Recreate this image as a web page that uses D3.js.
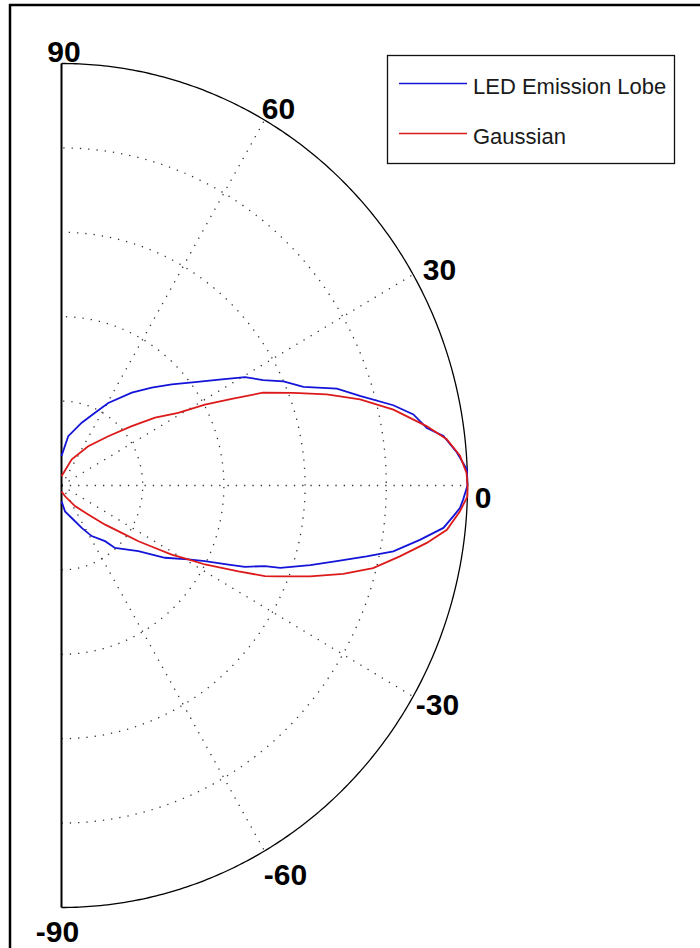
<!DOCTYPE html>
<html>
<head>
<meta charset="utf-8">
<script src="https://cdn.jsdelivr.net/npm/d3@7"></script>
<style>
  html, body { margin: 0; padding: 0; background: #fff; }
  svg { display: block; }
</style>
</head>
<body>
<svg id="chart" width="700" height="948"></svg>
<script>
// ---------------- DATA ----------------
const seriesNames = ["LED Emission Lobe", "Gaussian"];

// LED emission lobe (angle in degrees, normalized radius)
const ledAngles = [-90, -82, -71.9, -63.6, -58.2, -50.9, -48.3, -39.4, -33.9, -29.3, -26.9, -24.5, -23.1, -20.9,
  -19.9, -17.1, -14.8, -12.6, -10.8, -8.3, -6.1, -4.3, -3.1, -1.9, 0,
  2.2, 4.6, 7.1, 8.6, 11.0, 13.1, 16.1, 18.7, 21.4, 24.3, 26.7, 29.6, 32.5, 36.7, 41.4, 46.2, 51.8, 59.5, 64.4, 71.5, 81.9, 90];
const ledR = [0.037, 0.062, 0.081, 0.112, 0.141, 0.170, 0.198, 0.245, 0.307, 0.358, 0.396, 0.452, 0.491, 0.536,
  0.573, 0.641, 0.701, 0.770, 0.832, 0.892, 0.946, 0.968, 0.983, 0.990, 1.0,
  0.999, 0.977, 0.948, 0.910, 0.883, 0.839, 0.765, 0.716, 0.640, 0.600, 0.556, 0.520, 0.468, 0.410, 0.362, 0.321, 0.280, 0.227, 0.191, 0.157, 0.118, 0.070];

// Gaussian fit
const gaussAngles = [-90, -71, -55.8, -46.2, -40.8, -37.1, -34.9, -32.7, -31.1, -29.3, -27.9, -26.3, -25.0, -23.2,
  -22.1, -19.4, -16.8, -14.3, -11.4, -8.6, -6.3, -3.6, -1.5, 0,
  1.7, 4.1, 6.6, 8.9, 12.4, 15.5, 18.3, 21.0, 23.9, 26.1, 28.5, 30.9, 34.9, 39.1, 45.4, 54.7, 67.8, 90];
const gaussR = [0.014, 0.027, 0.059, 0.095, 0.142, 0.186, 0.231, 0.274, 0.317, 0.358, 0.400, 0.440, 0.481, 0.545,
  0.572, 0.649, 0.725, 0.792, 0.850, 0.910, 0.955, 0.983, 1.0, 1.0,
  0.998, 0.984, 0.955, 0.910, 0.837, 0.763, 0.688, 0.612, 0.543, 0.467, 0.402, 0.335, 0.281, 0.223, 0.164, 0.114, 0.067, 0.022];

const ringValues = [0.2, 0.4, 0.6, 0.8];
const spokeAngles = [60, 30, 0, -30, -60];
const tickAngles = [90, 60, 30, 0, -30, -60, -90];
const tickLabels = ["90", "60", "30", "0", "-30", "-60", "-90"];

// ---------------- LAYOUT ----------------
const cx = 61.5, cy = 485.5, Rx = 406, Ry = 422;
const colors = { led: "#1414d8", gauss: "#dc1a1a" };
const labelOffsets = { "90": [2.5, -12.5], "60": [14, -12.5], "30": [26.4, -6], "0": [15.5, 11.5],
  "-30": [24.4, 7.5], "-60": [21, 23], "-90": [-4, 23.5] };

const svg = d3.select("#chart");
const sx = d3.scaleLinear().domain([0, 1]).range([0, Rx]);
const sy = d3.scaleLinear().domain([0, 1]).range([0, Ry]);
const rad = d => d * Math.PI / 180;
const px = (a, r) => cx + sx(r * Math.cos(rad(a)));
const py = (a, r) => cy - sy(r * Math.sin(rad(a)));

const line = d3.line().x(d => px(d[0], d[1])).y(d => py(d[0], d[1]));
const fullArc = d3.range(-90, 90.01, 0.5);

// frame (cropped figure border)
svg.append("line").attr("x1", 9).attr("x2", 700).attr("y1", 5).attr("y2", 5)
  .attr("stroke", "#000").attr("stroke-width", 2.5);
svg.append("line").attr("x1", 10).attr("x2", 10).attr("y1", 4).attr("y2", 948)
  .attr("stroke", "#000").attr("stroke-width", 2.5);

// dotted rings
const grid = svg.append("g").attr("fill", "none").attr("stroke", "#333")
  .attr("stroke-width", 1.3).attr("stroke-dasharray", "1.3 7");
ringValues.forEach(rv => {
  grid.append("path").attr("d", line(fullArc.map(a => [a, rv])));
});
// dotted spokes
spokeAngles.forEach(a => {
  grid.append("path").attr("d", line([[a, 0], [a, 1]]));
});

// outer arc and vertical axis
svg.append("path").attr("d", line(fullArc.map(a => [a, 1])))
  .attr("fill", "none").attr("stroke", "#000").attr("stroke-width", 1.3);
svg.append("line").attr("x1", px(90, 1)).attr("x2", px(-90, 1))
  .attr("y1", py(90, 1)).attr("y2", py(-90, 1))
  .attr("stroke", "#000").attr("stroke-width", 2);

// curves
svg.append("path").attr("d", line(ledAngles.map((a, i) => [a, ledR[i]])))
  .attr("fill", "none").attr("stroke", colors.led).attr("stroke-width", 1.8);
svg.append("path").attr("d", line(gaussAngles.map((a, i) => [a, gaussR[i]])))
  .attr("fill", "none").attr("stroke", colors.gauss).attr("stroke-width", 1.8);

// angle labels
tickAngles.forEach((a, i) => {
  const lab = tickLabels[i];
  const off = labelOffsets[lab];
  svg.append("text")
    .attr("x", px(a, 1) + off[0])
    .attr("y", py(a, 1) + off[1] + 11)
    .attr("text-anchor", "middle")
    .attr("font-family", "Liberation Sans, Arial, sans-serif")
    .attr("font-weight", "bold")
    .attr("font-size", 30)
    .attr("fill", "#000")
    .text(lab);
});

// legend
const lg = svg.append("g");
lg.append("rect").attr("x", 387.5).attr("y", 55.5).attr("width", 287).attr("height", 108)
  .attr("fill", "#fff").attr("stroke", "#111").attr("stroke-width", 1.3);
[colors.led, colors.gauss].forEach((c, i) => {
  const y = 83.5 + i * 50;
  lg.append("line").attr("x1", 399).attr("x2", 467).attr("y1", y).attr("y2", y)
    .attr("stroke", c).attr("stroke-width", 1.5);
  lg.append("text").attr("x", 473).attr("y", y + 10.5)
    .attr("font-family", "Liberation Sans, Arial, sans-serif")
    .attr("font-size", 22).attr("fill", "#1a1a1a")
    .text(seriesNames[i]);
});
</script>
</body>
</html>
